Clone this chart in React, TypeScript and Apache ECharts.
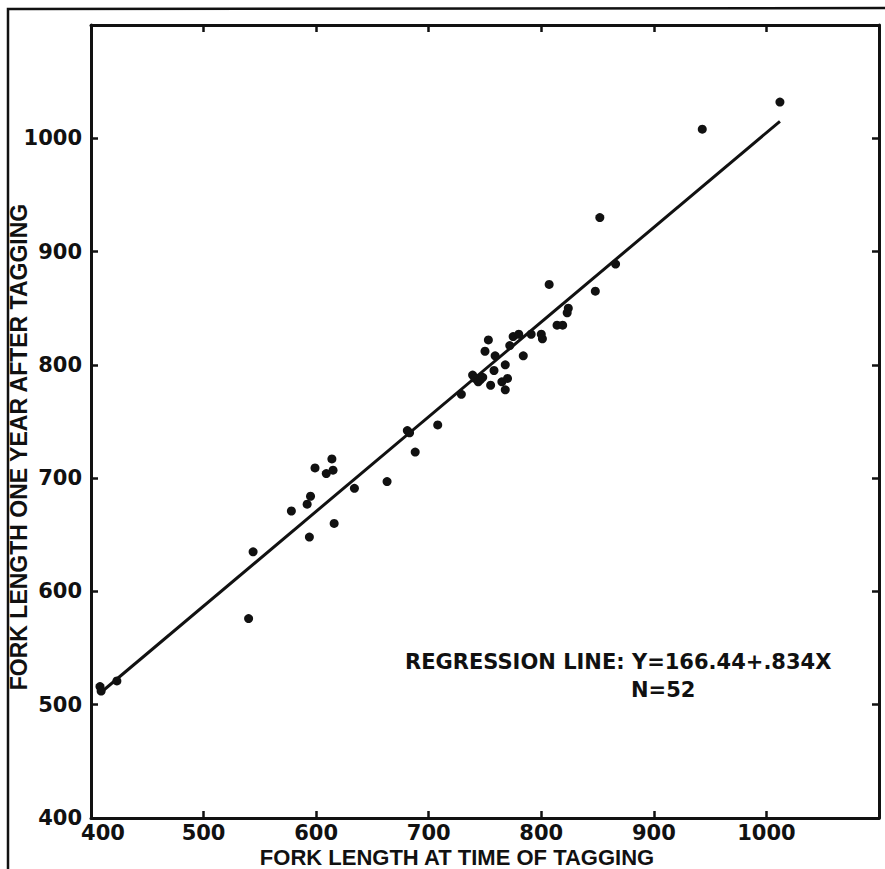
import React, { useEffect, useRef } from "react";
import * as echarts from "echarts";

// Fish fork length at tagging (x) and one year later (y)
const fishX = [
  408, 409, 423, 540, 544, 578, 592, 595, 594, 599, 609, 614, 615, 616, 634, 663,
  681, 683, 688, 708, 729, 739, 741, 744, 746, 748, 755, 758, 768, 765, 770, 768,
  750, 753, 759, 772, 775, 780, 784, 791, 800, 801, 807, 814, 819, 823, 824, 848,
  852, 866, 943, 1012,
];
const fishY = [
  516, 512, 521, 576, 635, 671, 677, 684, 648, 709, 704, 717, 707, 660, 691, 697,
  742, 740, 723, 747, 774, 791, 788, 785, 787, 789, 782, 795, 800, 785, 788, 778,
  812, 822, 808, 817, 825, 827, 808, 827, 827, 823, 871, 835, 835, 846, 850, 865,
  930, 889, 1008, 1032,
];

// Regression line end points as drawn
const regLineX = [409, 1012];
const regLineY = [511, 1015];

const axisMin = 400;
const axisMax = 1100;
const tickStep = 100;

const xTitle = "FORK LENGTH AT TIME OF TAGGING";
const yTitle = "FORK LENGTH ONE YEAR AFTER TAGGING";
const regText = "REGRESSION LINE: Y=166.44+.834X";
const nText = "N=52";

const INK = "#111";
const XTITLE_FONT = "bold 22px 'Liberation Sans', Arial, sans-serif";
const YTITLE_FONT = "bold 23px 'Liberation Sans', Arial, sans-serif";
const NOTE_FONT = "bold 21px 'DejaVu Sans', sans-serif";

export default function App() {
  const ref = useRef<HTMLDivElement>(null);

  useEffect(() => {
    if (!ref.current) return;
    const chart = echarts.init(ref.current, undefined, { renderer: "svg" });

    const baseAxis = {
      type: "value" as const,
      min: axisMin,
      max: axisMax,
      interval: tickStep,
      splitLine: { show: false },
      axisLine: { show: true, onZero: false, lineStyle: { color: INK, width: 3 } },
      axisTick: { show: true, inside: true, length: 7, lineStyle: { color: INK, width: 2.5 } },
    };
    const labelStyle = {
      color: INK,
      fontFamily: "'DejaVu Sans', sans-serif",
      fontWeight: "bold" as const,
      fontSize: 21,
    };

    const scatterData = fishX.map((x, i) => [x, fishY[i]]);
    const lineData = regLineX.map((x, i) => [x, regLineY[i]]);

    chart.setOption({
      animation: false,
      backgroundColor: "#fff",
      grid: { left: 91, top: 25, right: 6, bottom: 51, containLabel: false },
      xAxis: [
        {
          ...baseAxis,
          position: "bottom",
          axisLabel: {
            ...labelStyle,
            margin: 4,
            formatter: (v: number) =>
              v >= axisMax ? "" : v === axisMin ? "{m|" + v + "}" : String(v),
            rich: { m: { ...labelStyle, padding: [0, 0, 0, 24] } },
          },
        },
        { ...baseAxis, position: "top", axisLabel: { show: false } },
      ],
      yAxis: [
        {
          ...baseAxis,
          position: "left",
          axisLabel: {
            ...labelStyle,
            margin: 9,
            formatter: (v: number) => (v >= axisMax ? "" : String(v)),
          },
        },
        { ...baseAxis, position: "right", axisLabel: { show: false } },
      ],
      series: [
        {
          type: "line",
          data: lineData,
          showSymbol: false,
          symbol: "none",
          lineStyle: { color: INK, width: 3 },
          silent: true,
          z: 2,
        },
        {
          type: "scatter",
          data: scatterData,
          symbol: "circle",
          symbolSize: 9,
          itemStyle: { color: INK, opacity: 1 },
          z: 3,
        },
      ],
      graphic: [
        {
          type: "polyline",
          shape: { points: [[8, 875], [8, 9], [890, 8]] },
          style: { stroke: INK, lineWidth: 2.5, fill: "none" },
          silent: true,
        },
        {
          type: "text",
          x: 457,
          y: 857,
          style: {
            text: xTitle,
            font: XTITLE_FONT,
            fill: INK,
            align: "center",
            verticalAlign: "middle",
            textAlign: "center",
            textVerticalAlign: "middle",
          },
        },
        {
          type: "text",
          x: 19,
          y: 447,
          rotation: Math.PI / 2,
          style: {
            text: yTitle,
            font: YTITLE_FONT,
            fill: INK,
            align: "center",
            verticalAlign: "middle",
            textAlign: "center",
            textVerticalAlign: "middle",
          },
        },
        {
          type: "text",
          x: 405,
          y: 662,
          style: {
            text: regText,
            font: NOTE_FONT,
            fill: INK,
            align: "left",
            verticalAlign: "middle",
            textAlign: "left",
            textVerticalAlign: "middle",
          },
        },
        {
          type: "text",
          x: 631,
          y: 690,
          style: {
            text: nText,
            font: NOTE_FONT,
            fill: INK,
            align: "left",
            verticalAlign: "middle",
            textAlign: "left",
            textVerticalAlign: "middle",
          },
        },
      ],
    });

    return () => chart.dispose();
  }, []);

  return (
    <div
      ref={ref}
      style={{ position: "absolute", left: 0, top: 0, width: 885, height: 869 }}
    />
  );
}
